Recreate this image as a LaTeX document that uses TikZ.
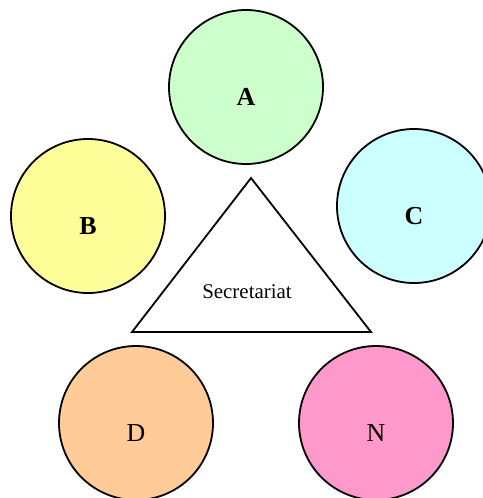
\documentclass[tikz,border=0pt]{standalone}
\usepackage{fontspec}
\setmainfont{Liberation Serif}
\usepackage{xcolor}
\usepackage{tikz}
\usetikzlibrary{positioning, calc}
\definecolor{grpA}{HTML}{CCFFCC}
\definecolor{grpB}{HTML}{FFFF99}
\definecolor{grpC}{HTML}{CCFFFF}
\definecolor{grpD}{HTML}{FFCC99}
\definecolor{grpN}{HTML}{FF99CC}

\begin{document}
\begin{tikzpicture}[
  x=1bp, y=1bp,
  member/.style={circle, draw=black, line width=1.8bp, minimum size=154bp, inner sep=0pt,
    font=\fontsize{26}{28}\selectfont, text height=37bp, text depth=0pt},
  secline/.style={draw=black, line width=1.8bp, line join=miter}
]
\clip (0,0) rectangle (483,-498);
\node[member, fill=grpA] (a) at (246,-87) {\textbf{A}};
\node[member, fill=grpB] (b) at (88,-216) {\textbf{B}};
\node[member, fill=grpC] (c) at (414,-206) {\textbf{C}};
\node[member, fill=grpD] (d) at (136,-423) {D};
\node[member, fill=grpN] (n) at (376,-423) {N};
% secretariat
\coordinate (top) at (251,-178);
\coordinate (bl) at (132,-332);
\coordinate (br) at (371,-332);
\draw[secline] (top) -- (bl) -- (br) -- cycle;
\node[font=\fontsize{21}{23}\selectfont] (sec) at (247,-292) {Secretariat};
\end{tikzpicture}
\end{document}
